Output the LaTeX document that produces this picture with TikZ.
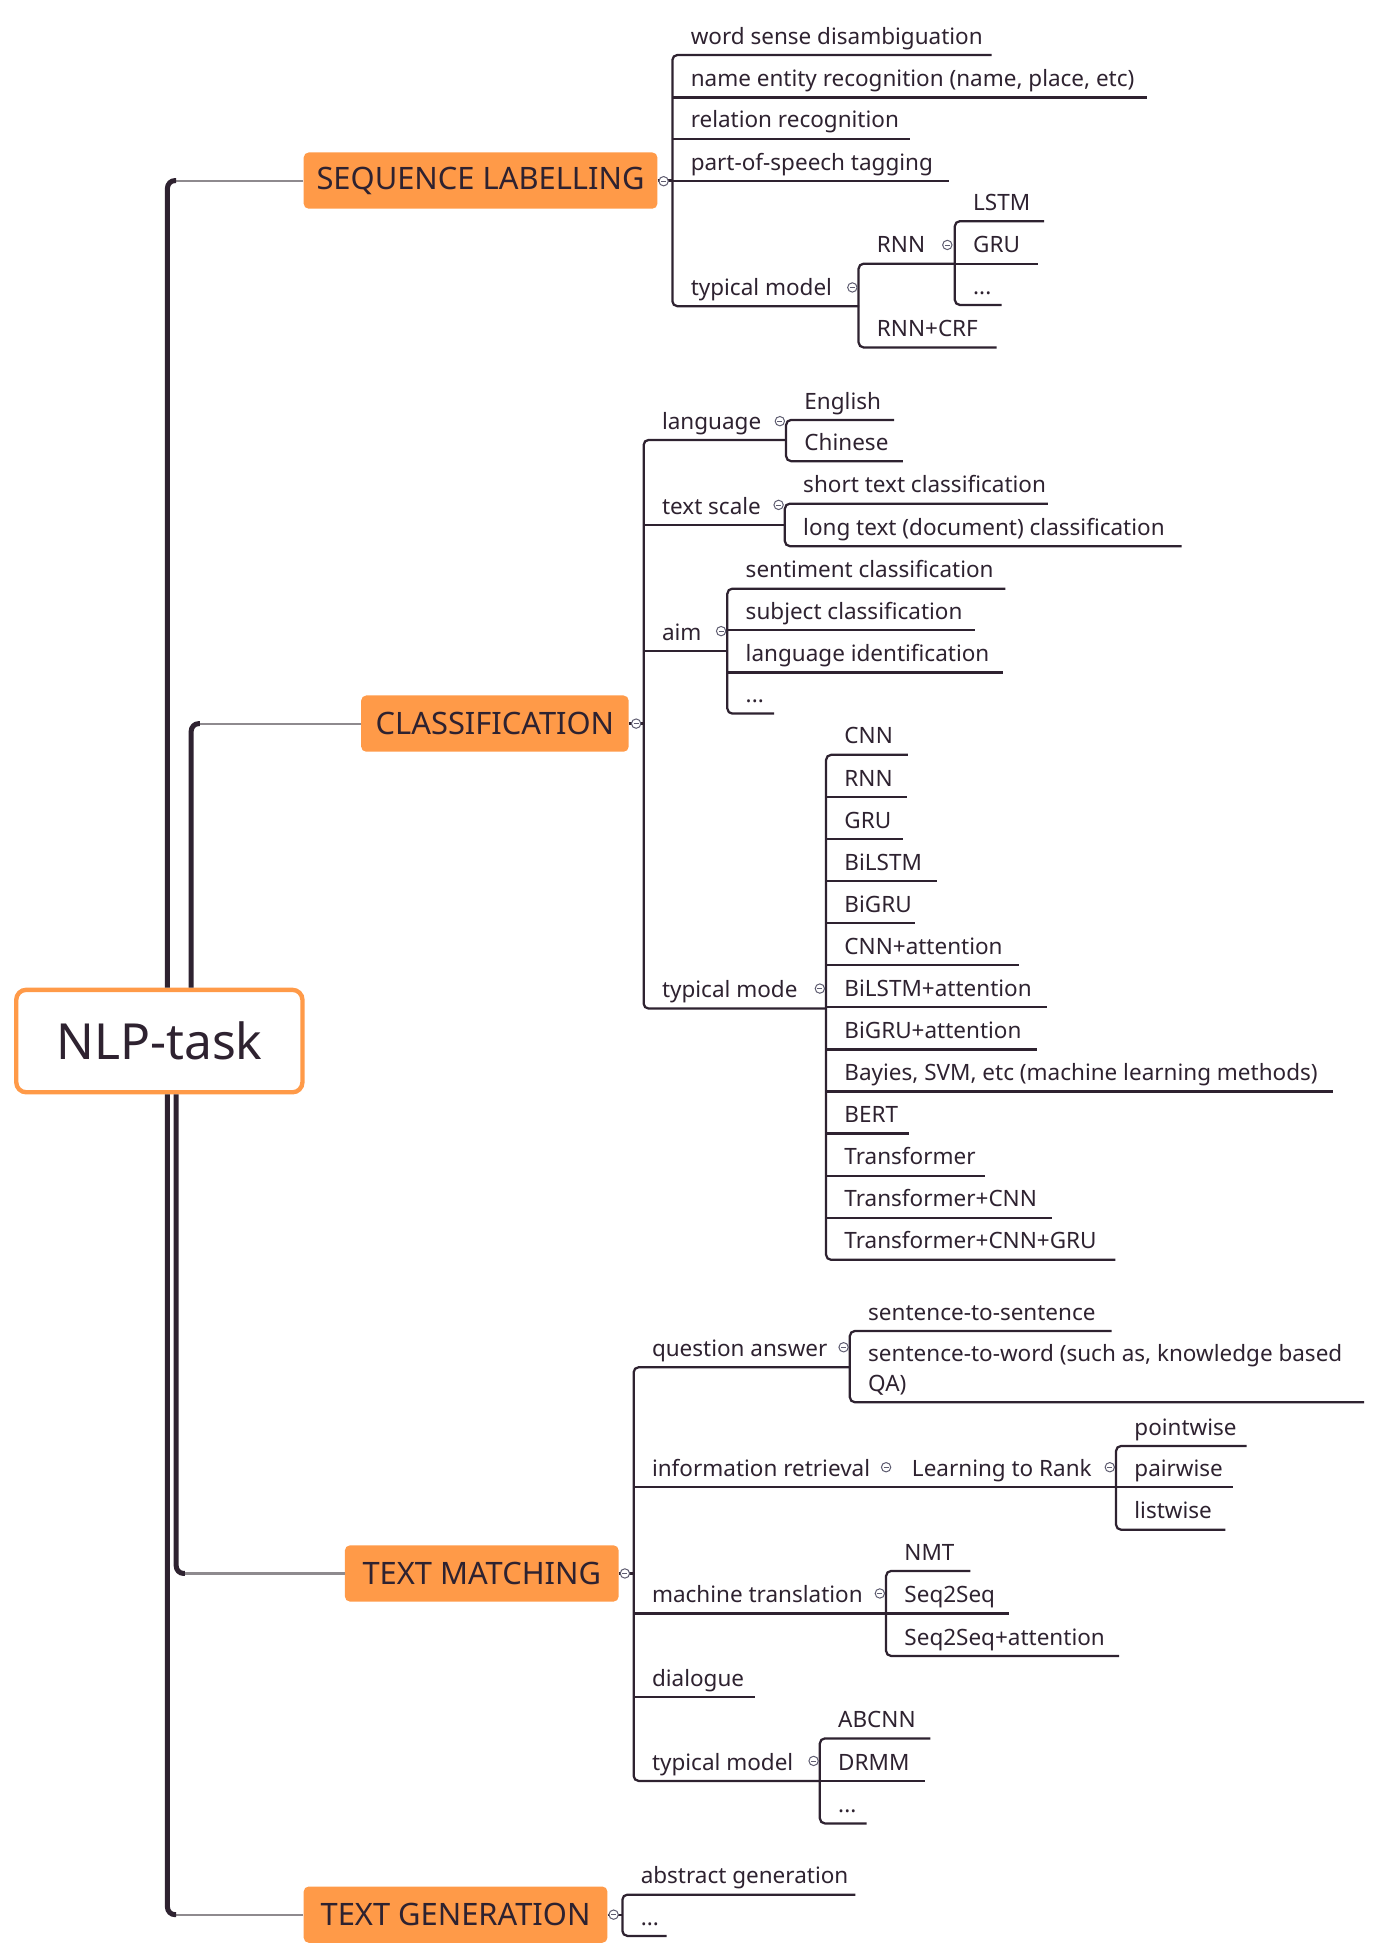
\documentclass[tikz,border=0pt]{standalone}
\usepackage{fontspec}
\setmainfont{Noto Sans}
\usepackage{tikz}

\definecolor{ink}{HTML}{2E2230}
\definecolor{boxorange}{HTML}{FF9A48}
\definecolor{twiggrey}{HTML}{8E8A8E}
\definecolor{foldgrey}{HTML}{5E5C70}

\newcommand{\leaf}[5]{\node[leaf] (#1) at ({#2},{#3}) {\makebox[\dimexpr#4pt-#2pt\relax][l]{\hspace*{14.5pt}#5}};}
\newcommand{\fold}[3]{\node[fold] (#1) at (#2,#3) {};}
\newcommand{\bracket}[2]{\draw[uline, rounded corners=4pt] (#1.south east) -- (#1.south west) -- (#2.south west) -- (#2.south east);}

\begin{document}
\begin{tikzpicture}[x=1pt,y=-1pt,
  leaf/.style={anchor=south west, inner sep=0pt, text height=14pt, text depth=8.5pt, text=ink, font=\fontsize{18}{24}\selectfont},
  uline/.style={draw=ink, line width=1.8pt},
  fold/.style={circle, draw=foldgrey, fill=white, line width=0.8pt, minimum size=7.5pt, inner sep=0pt,
    path picture={\draw[foldgrey, line width=0.6pt] ([xshift=-2pt]path picture bounding box.center) -- ([xshift=2pt]path picture bounding box.center);}},
  branch/.style={fill=boxorange, rounded corners=4pt, text=ink, font=\fontsize{24.7}{30}\selectfont, minimum height=45pt, inner sep=0pt},
  trunk/.style={draw=ink, line width=4pt, rounded corners=6pt},
  twig/.style={draw=twiggrey, line width=1.7pt}]

\useasboundingbox (0,0) rectangle (1105,1567.5);

\node[draw=boxorange, line width=3.5pt, fill=white, rounded corners=8pt, minimum width=229pt, minimum height=82pt, text=ink, font=\fontsize{39.8}{46}\selectfont] (nlp) at (127.5,833) {NLP-task};

\node[branch, minimum width=283pt] (seq) at (384.5,144.5) {SEQUENCE LABELLING};
\node[branch, minimum width=214pt] (cls) at (396,579) {CLASSIFICATION};
\node[branch, minimum width=219pt] (tm) at (385.5,1259) {TEXT MATCHING};
\node[branch, minimum width=243pt] (gen) at (364.5,1532) {TEXT GENERATION};

\coordinate (ta) at (134,0);
\coordinate (tb) at (153,0);
\coordinate (tc) at (141,0);

\draw[twig] (seq.west) -- ([xshift=6pt]seq.west -| ta);
\draw[twig] (cls.west) -- ([xshift=6pt]cls.west -| tb);
\draw[twig] (tm.west) -- ([xshift=6pt]tm.west -| tc);
\draw[twig] (gen.west) -- ([xshift=6pt]gen.west -| ta);
\draw[trunk] ([xshift=7pt]seq.west -| ta) -- (seq.west -| ta) -- (nlp.north -| ta);
\draw[trunk] (nlp.south -| ta) -- (gen.west -| ta) -- ([xshift=7pt]gen.west -| ta);
\draw[trunk] (nlp.north -| tb) -- (cls.west -| tb) -- ([xshift=7pt]cls.west -| tb);
\draw[trunk] (nlp.south -| tc) -- (tm.west -| tc) -- ([xshift=7pt]tm.west -| tc);

% sequence labelling
\leaf{wsd}{538}{44}{793}{word sense disambiguation}
\leaf{ner}{538}{78}{917}{name entity recognition (name, place, etc)}
\leaf{rr}{538}{111}{728}{relation recognition}
\leaf{pos}{538}{145}{759}{part-of-speech tagging}
\leaf{stm}{538}{245}{687}{typical model}
\leaf{srnn}{687}{211}{764}{RNN}
\leaf{scrf}{687}{278}{797}{RNN+CRF}
\leaf{slstm}{764}{177}{835}{LSTM}
\leaf{sgru}{764}{211}{830}{GRU}
\leaf{sdots}{764}{244}{801}{...}

% classification
\leaf{lang}{515}{352}{629}{language}
\leaf{tscale}{515}{420}{628}{text scale}
\leaf{aim}{515}{521}{582}{aim}
\leaf{ctm}{515}{807}{661}{typical mode}
\leaf{en}{629}{336}{715}{English}
\leaf{zh}{629}{369}{722}{Chinese}
\leaf{short}{628}{403}{838}{short text classification}
\leaf{long}{628}{437}{945}{long text (document) classification}
\leaf{senti}{582}{471}{804}{sentiment classification}
\leaf{subj}{582}{504}{780}{subject classification}
\leaf{langid}{582}{538}{802}{language identification}
\leaf{adots}{582}{571}{619}{...}
\foreach \t/\e [count=\i] in {CNN/726, RNN/725, GRU/722, BiLSTM/749, BiGRU/732, CNN+attention/815, BiLSTM+attention/837, BiGRU+attention/829, {Bayies, SVM, etc (machine learning methods)}/1066, BERT/727, Transformer/788, Transformer+CNN/841, Transformer+CNN+GRU/892}
  {\leaf{cm\i}{661}{570.33+33.67*\i}{\e}{\t}}

% text matching
\leaf{qa}{507}{1094}{680}{question answer}
\leaf{ir}{507}{1190}{715}{information retrieval}
\leaf{ltr}{715}{1190}{893}{Learning to Rank}
\leaf{mt}{507}{1291}{709}{machine translation}
\leaf{dlg}{507}{1358}{604}{dialogue}
\leaf{tmm}{507}{1425}{656}{typical model}
\leaf{s2s}{680}{1065}{889}{sentence-to-sentence}
\leaf{s2w}{680}{1122}{1091}{\begin{tabular}[b]{@{}l@{}}sentence-to-word (such as, knowledge based\\QA)\end{tabular}}
\leaf{pw}{893}{1157}{997}{pointwise}
\leaf{pa}{893}{1190}{986}{pairwise}
\leaf{lw}{893}{1224}{980}{listwise}
\leaf{nmt}{709}{1257}{776}{NMT}
\leaf{s2q}{709}{1291}{807}{Seq2Seq}
\leaf{s2a}{709}{1325}{895}{Seq2Seq+attention}
\leaf{abc}{656}{1391}{744}{ABCNN}
\leaf{drmm}{656}{1425}{740}{DRMM}
\leaf{tdots}{656}{1459}{693}{...}

% text generation
\leaf{abs}{498}{1516}{684}{abstract generation}
\leaf{gdots}{498}{1549}{533}{...}

\draw[uline] (seq.east) -- (seq.east -| pos.south west);
\draw[uline] (cls.east) -- (cls.east -| lang.south west);
\draw[uline] (tm.east) -- (tm.east -| qa.south west);
\draw[uline] (gen.east) -- (gen.east -| abs.south west);

\foreach \n in {ner, rr, pos, sgru, tscale, aim, subj, langid, ir, ltr, mt, dlg, pa, s2q, drmm}
  \draw[uline] (\n.south west) -- (\n.south east);
\foreach \i in {2,...,12}
  \draw[uline] (cm\i.south west) -- (cm\i.south east);

\bracket{wsd}{stm}
\bracket{srnn}{scrf}
\bracket{slstm}{sdots}
\bracket{lang}{ctm}
\bracket{en}{zh}
\bracket{short}{long}
\bracket{senti}{adots}
\bracket{cm1}{cm13}
\bracket{qa}{tmm}
\bracket{s2s}{s2w}
\bracket{pw}{lw}
\bracket{nmt}{s2a}
\bracket{abc}{tdots}
\bracket{abs}{gdots}

\fold{f1}{531}{145}
\fold{f2}{682}{230}
\fold{f3}{758}{196}
\fold{f4}{509}{579}
\fold{f5}{624}{337}
\fold{f6}{623}{404}
\fold{f7}{577}{505}
\fold{f8}{656}{791}
\fold{f9}{500}{1259}
\fold{f10}{675}{1078}
\fold{f11}{709}{1174}
\fold{f12}{888}{1174}
\fold{f13}{704}{1275}
\fold{f14}{651}{1409}
\fold{f15}{491}{1532}

\end{tikzpicture}
\end{document}
